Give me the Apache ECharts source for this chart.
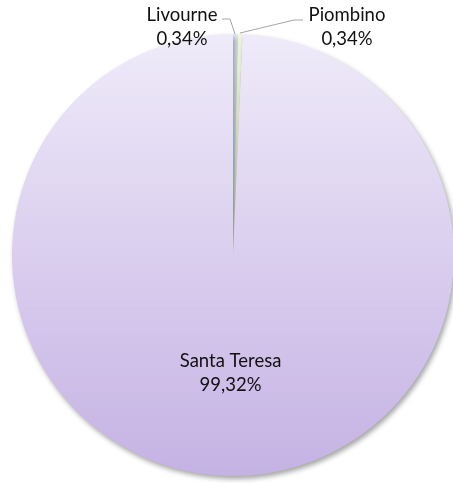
<!DOCTYPE html>
<html>
<head>
<meta charset="utf-8">
<script src="https://cdn.jsdelivr.net/npm/echarts@6/dist/echarts.min.js"></script>
<style>
  html, body { margin: 0; padding: 0; background: #fff; }
  #chart { width: 453px; height: 483px; }
</style>
</head>
<body>
<div id="chart"></div>
<script>
// ports and number of calls (shares: 0,34% / 0,34% / 99,32%)
const ports = ['Livourne', 'Piombino', 'Santa Teresa'];
const calls = [1, 1, 292];

const sliceColors = [
  { type: 'linear', x: 0, y: 0, x2: 0, y2: 1, colorStops: [{ offset: 0, color: '#e3ebf8' }, { offset: 1, color: '#c9d8f0' }] },
  { type: 'linear', x: 0, y: 0, x2: 0, y2: 1, colorStops: [{ offset: 0, color: '#f1f7df' }, { offset: 1, color: '#dcebb8' }] },
  { type: 'linear', x: 0, y: 0, x2: 0, y2: 1, colorStops: [{ offset: 0, color: '#efebf9' }, { offset: 1, color: '#c5b2e4' }] }
];

// label positions and leader lines (layout only)
const labelPos = [
  { x: 182, y: 27, line: [[235, 34], [230, 19], [222, 19]] },
  { x: 347, y: 27, line: [[240, 33], [294, 20], [303, 20]] }
];

let chartDom = document.getElementById('chart');
let myChart = echarts.init(chartDom);
let option;

option = {
  animation: false,
  series: [
    {
      type: 'pie',
      center: [233, 255],
      radius: 221,
      startAngle: 90,
      clockwise: true,
      percentPrecision: 2,
      avoidLabelOverlap: false,
      itemStyle: {
        borderWidth: 0,
        shadowBlur: 5,
        shadowOffsetX: 2,
        shadowOffsetY: 3,
        shadowColor: 'rgba(0,0,0,0.35)'
      },
      label: {
        fontFamily: 'Lato',
        fontSize: 18.5,
        lineHeight: 24,
        color: '#111',
        align: 'center',
        formatter: function (p) {
          return p.name + '\n' + p.percent.toFixed(2).replace('.', ',') + '%';
        }
      },
      labelLine: {
        show: true,
        length: 10,
        length2: 10,
        lineStyle: { color: '#a6a6a6', width: 1 }
      },
      labelLayout: function (params) {
        const pos = labelPos[params.dataIndex];
        if (!pos) return {};
        return { x: pos.x, y: pos.y, align: 'center', verticalAlign: 'middle', labelLinePoints: pos.line };
      },
      data: ports.map(function (name, i) {
        const item = { name: name, value: calls[i], itemStyle: { color: sliceColors[i] } };
        if (i === 2) {
          item.label = { position: 'inside', offset: [0, 5] };
          item.labelLine = { show: false };
        }
        return item;
      })
    }
  ]
};

option && myChart.setOption(option);
</script>
</body>
</html>
